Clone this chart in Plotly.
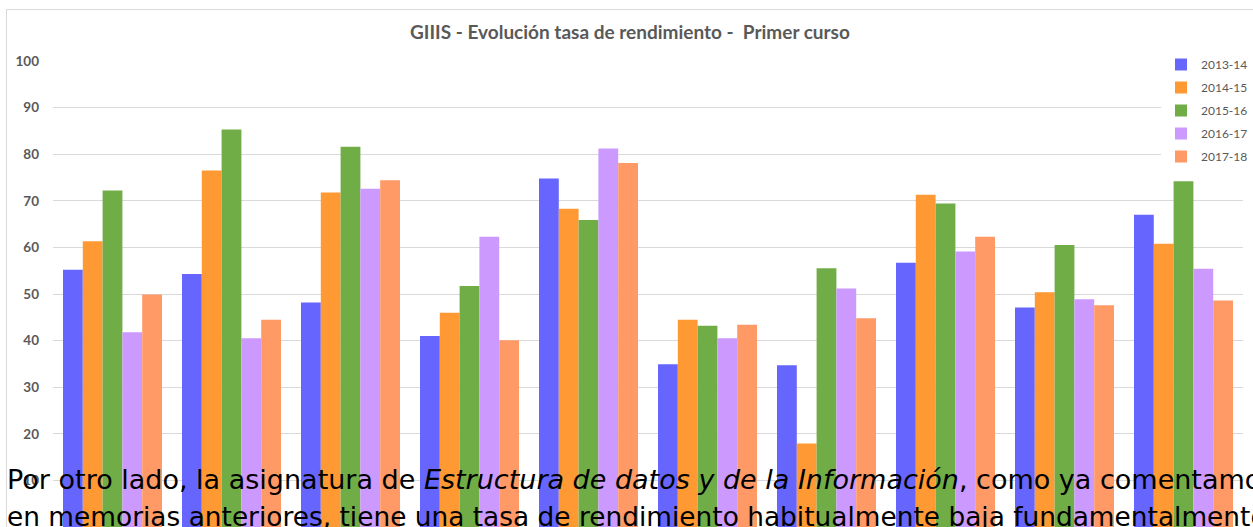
import plotly.graph_objects as go

# Ten first-year subjects, five academic years
subjects = ["Asig. 1", "Asig. 2", "Asig. 3", "Asig. 4", "Asig. 5",
            "Asig. 6", "Asig. 7", "Asig. 8", "Asig. 9", "Asig. 10"]
years = ["2013-14", "2014-15", "2015-16", "2016-17", "2017-18"]

rate_2013_14 = [55.2, 54.3, 48.2, 41.0, 74.8, 34.9, 34.7, 56.7, 47.1, 67.0]
rate_2014_15 = [61.3, 76.5, 71.8, 46.0, 68.3, 44.5, 17.9, 71.3, 50.4, 60.8]
rate_2015_16 = [72.2, 85.3, 81.6, 51.7, 65.9, 43.2, 55.5, 69.4, 60.5, 74.2]
rate_2016_17 = [41.8, 40.5, 72.6, 62.3, 81.2, 40.5, 51.2, 59.1, 48.9, 55.4]
rate_2017_18 = [49.9, 44.5, 74.4, 40.1, 78.1, 43.4, 44.8, 62.3, 47.6, 48.6]

series = [rate_2013_14, rate_2014_15, rate_2015_16, rate_2016_17, rate_2017_18]
colors = ["#6666FF", "#FF9933", "#70AD47", "#CC99FF", "#FF9966"]

title_text = "GIIIS - Evolución tasa de rendimiento -  Primer curso"
para_line1 = ("Por otro lado, la asignatura de <i>Estructura de datos y de la "
              "Información</i>, como ya comentamos")
para_line2 = ("en memorias anteriores, tiene una tasa de rendimiento "
              "habitualmente baja fundamentalmente")

W, H = 1253, 527
ML, MR, MT, MB = 53, 10, 61, 0

fig = go.Figure()
for name, vals, col in zip(years, series, colors):
    fig.add_trace(go.Bar(
        x=subjects, y=vals, name=name, marker_color=col,
        marker_line_width=0, legendgroup=name,
    ))

grey = "#595959"

def px_to_paper_y(py):
    return (H - MB - py) / (H - MT - MB)

def px_to_paper_x(px):
    return (px - ML) / (W - ML - MR)

fig.update_layout(
    width=W, height=H,
    margin=dict(l=ML, r=MR, t=MT, b=MB, autoexpand=False),
    paper_bgcolor="white", plot_bgcolor="white",
    barmode="group", bargap=0.168, bargroupgap=0,
    showlegend=True,
    legend=dict(
        x=px_to_paper_x(1161), xanchor="left",
        y=px_to_paper_y(50), yanchor="top",
        bgcolor="white", borderwidth=0,
        font=dict(family="Lato", size=12, color=grey),
        traceorder="grouped", tracegroupgap=4,
        itemwidth=30,
    ),
    xaxis=dict(showticklabels=False, showgrid=False, zeroline=False,
               showline=False, ticks=""),
    yaxis=dict(range=[0, 100], dtick=10, tick0=0,
               showgrid=True, gridcolor="#D9D9D9", gridwidth=1,
               zeroline=False, showline=False, ticks="",
               ticklabelstandoff=13,
               tickfont=dict(family="Lato", size=13.5, color=grey,
                             weight="bold")),
    font=dict(family="Lato", color=grey),
)

# Chart frame (top and left edges)
frame = dict(color="#D9D9D9", width=1)
fig.add_shape(type="line", xref="paper", yref="paper",
              x0=px_to_paper_x(6.5), x1=px_to_paper_x(1260),
              y0=px_to_paper_y(9.5), y1=px_to_paper_y(9.5), line=frame)
fig.add_shape(type="line", xref="paper", yref="paper",
              x0=px_to_paper_x(6.5), x1=px_to_paper_x(6.5),
              y0=px_to_paper_y(9.5), y1=px_to_paper_y(540), line=frame)

# Title
fig.add_annotation(text="<b>" + title_text + "</b>", xref="paper", yref="paper",
                   x=px_to_paper_x(630), y=px_to_paper_y(32),
                   xanchor="center", yanchor="middle", showarrow=False,
                   font=dict(family="Lato", size=19, color=grey))

# Paragraph text running over the lower part of the chart
fig.add_annotation(text=para_line1, xref="paper", yref="paper",
                   x=px_to_paper_x(5), y=px_to_paper_y(479),
                   xanchor="left", yanchor="middle", showarrow=False,
                   font=dict(family="DejaVu Sans", size=27, color="black"))
fig.add_annotation(text=para_line2, xref="paper", yref="paper",
                   x=px_to_paper_x(5), y=px_to_paper_y(516),
                   xanchor="left", yanchor="middle", showarrow=False,
                   font=dict(family="DejaVu Sans", size=26.4, color="black"))

fig.write_html("out.html")
